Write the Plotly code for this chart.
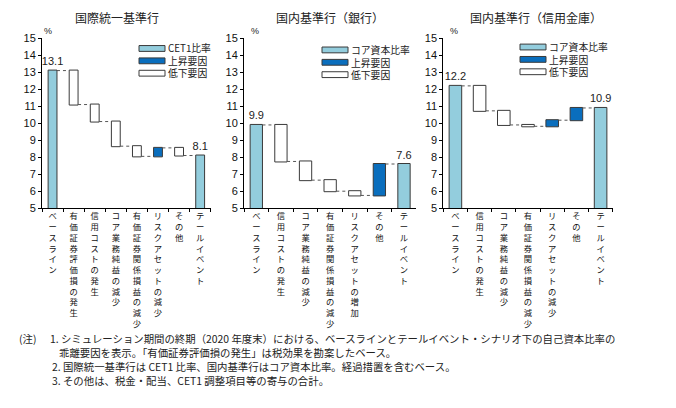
import plotly.graph_objects as go

# ---------------- data ----------------
intl_title = "国際統一基準行"
intl_cats = ["ベースライン", "有価証券評価損の発生", "信用コストの発生", "コア業務純益の減少",
             "有価証券関係損益の減少", "リスクアセットの減少", "その他", "テールイベント"]
intl_vals = [13.1, -2.0, -1.0, -1.45, -0.6, 0.5, -0.45, 8.1]

bank_title = "国内基準行（銀行）"
bank_cats = ["ベースライン", "信用コストの発生", "コア業務純益の減少", "有価証券関係損益の減少",
             "リスクアセットの増加", "その他", "テールイベント"]
bank_vals = [9.9, -2.15, -1.1, -0.65, -0.25, 1.85, 7.6]

shinkin_title = "国内基準行（信用金庫）"
shinkin_cats = ["ベースライン", "信用コストの発生", "コア業務純益の減少", "有価証券関係損益の減少",
                "リスクアセットの減少", "その他", "テールイベント"]
shinkin_vals = [12.2, -1.47, -0.83, -0.08, 0.36, 0.72, 10.9]

intl_legend = ["CET1比率", "上昇要因", "低下要因"]
domestic_legend = ["コア資本比率", "上昇要因", "低下要因"]

y_ticks = [5, 6, 7, 8, 9, 10, 11, 12, 13, 14, 15]

note_head = "(注)"
notes = [
    "1. シミュレーション期間の終期（2020 年度末）における、ベースラインとテールイベント・シナリオ下の自己資本比率の",
    "乖離要因を表示。「有価証券評価損の発生」は税効果を勘案したベース。",
    "2. 国際統一基準行は CET1 比率、国内基準行はコア資本比率。経過措置を含むベース。",
    "3. その他は、税金・配当、CET1 調整項目等の寄与の合計。",
]

# ---------------- styling ----------------
W, H = 676, 408
C_TOTAL = "#93CDDD"
C_UP = "#0A6EBD"
C_DOWN = "#FFFFFF"
C_EDGE = "#3A3A3A"
JP = "Noto Sans CJK JP"
NUM = "Liberation Sans"
LEG_FS = 9.8
LEG_STEP = LEG_FS * 1.3
NOTE_FS = 10.4


def px_x(p):
    return p / W


def px_y(p):
    return 1 - p / H


def vertical(s):
    return "<br>".join(list(s))


panels = [
    dict(title=intl_title, cats=intl_cats, vals=intl_vals, legend=intl_legend,
         x0=42, x1=210.7, width=0.42, title_x=117, pct_x=42,
         leg_x=139, leg_mid=56.5),
    dict(title=bank_title, cats=bank_cats, vals=bank_vals, legend=domestic_legend,
         x0=244, x1=416.3, width=0.5, title_x=330, pct_x=249,
         leg_x=322, leg_mid=58),
    dict(title=shinkin_title, cats=shinkin_cats, vals=shinkin_vals, legend=domestic_legend,
         x0=443.3, x1=612.7, width=0.52, title_x=536, pct_x=448,
         leg_x=520, leg_mid=55),
]

Y_TOP, Y_BOT = 33.3, 208.3

fig = go.Figure()
annotations = []
shapes = []

for i, p in enumerate(panels):
    n = len(p["cats"])
    sfx = "" if i == 0 else str(i + 1)
    measure = ["absolute"] + ["relative"] * (n - 2) + ["total"]
    text = [f"{p['vals'][0]:.1f}"] + [""] * (n - 2) + [f"{p['vals'][-1]:.1f}"]
    fig.add_trace(go.Waterfall(
        x=p["cats"], y=p["vals"], measure=measure,
        width=p["width"],
        text=text, textposition="outside", cliponaxis=False, constraintext="none",
        textfont=dict(family=NUM, size=11, color="#222"),
        totals=dict(marker=dict(color=C_TOTAL, line=dict(color=C_EDGE, width=1))),
        increasing=dict(marker=dict(color=C_UP, line=dict(color=C_EDGE, width=1))),
        decreasing=dict(marker=dict(color=C_DOWN, line=dict(color=C_EDGE, width=1))),
        connector=dict(mode="between", line=dict(color="#555", width=1, dash="dot")),
        showlegend=False,
        xaxis="x" + sfx, yaxis="y" + sfx,
        hoverinfo="skip",
    ))

    fig.layout["xaxis" + sfx] = dict(
        domain=[px_x(p["x0"]), px_x(p["x1"])], anchor="y" + sfx,
        type="category", tickmode="array", tickvals=p["cats"],
        ticktext=[vertical(c) for c in p["cats"]],
        tickson="boundaries", ticks="outside", ticklen=3, tickcolor="#000",
        showline=True, linecolor="#000", linewidth=1, showgrid=False,
        tickangle=0, tickfont=dict(family=JP, size=8.3, color="#111"),
        range=[-0.5, n - 0.5], fixedrange=True,
    )
    fig.layout["yaxis" + sfx] = dict(
        domain=[px_y(Y_BOT), px_y(Y_TOP)], anchor="x" + sfx,
        range=[5, 15], tickvals=y_ticks, ticks="outside", ticklen=3,
        tickcolor="#000", showline=True, linecolor="#000", linewidth=1,
        showgrid=False, zeroline=False,
        tickfont=dict(family=NUM, size=11, color="#111"), fixedrange=True,
    )

    # panel title
    annotations.append(dict(x=px_x(p["title_x"]), y=px_y(12), xref="paper", yref="paper",
                            text=p["title"], showarrow=False, xanchor="center", yanchor="middle",
                            font=dict(family=JP, size=12, color="#222")))
    # percent unit
    annotations.append(dict(x=px_x(p["pct_x"]), y=px_y(26), xref="paper", yref="paper",
                            text="%", showarrow=False, xanchor="left", yanchor="middle",
                            font=dict(family=NUM, size=9, color="#222")))
    # legend: patches + one text block
    fills = [C_TOTAL, C_UP, C_DOWN]
    for k, fc in enumerate(fills):
        yc = p["leg_mid"] + (k - 1) * LEG_STEP
        shapes.append(dict(type="rect", xref="paper", yref="paper",
                           x0=px_x(p["leg_x"]), x1=px_x(p["leg_x"] + 26),
                           y0=px_y(yc + 3), y1=px_y(yc - 3),
                           fillcolor=fc, line=dict(color=C_EDGE, width=1)))
    annotations.append(dict(x=px_x(p["leg_x"] + 28), y=px_y(p["leg_mid"]), xref="paper", yref="paper",
                            text="<br>".join(p["legend"]), showarrow=False, align="left",
                            xanchor="left", yanchor="middle", borderpad=0,
                            font=dict(family=JP, size=LEG_FS, color="#222")))

# notes
annotations.append(dict(x=px_x(18), y=px_y(342.5), xref="paper", yref="paper",
                        text=note_head, showarrow=False, xanchor="left", yanchor="middle",
                        borderpad=0, font=dict(family=JP, size=NOTE_FS, color="#222")))
note_pos = [(49, 342.5), (58, 356.8), (51, 371.1), (51, 385.6)]
for (nx, ny), t in zip(note_pos, notes):
    annotations.append(dict(x=px_x(nx), y=px_y(ny), xref="paper", yref="paper",
                            text=t, showarrow=False, xanchor="left", yanchor="middle",
                            borderpad=0, font=dict(family=JP, size=NOTE_FS, color="#222")))

fig.update_layout(
    width=W, height=H, margin=dict(l=0, r=0, t=0, b=0),
    paper_bgcolor="white", plot_bgcolor="white",
    annotations=annotations, shapes=shapes,
    font=dict(family=JP),
)

fig.write_html("out.html", config={"displayModeBar": False},
               post_script="document.body.style.margin='0';document.body.style.overflow='hidden';")
